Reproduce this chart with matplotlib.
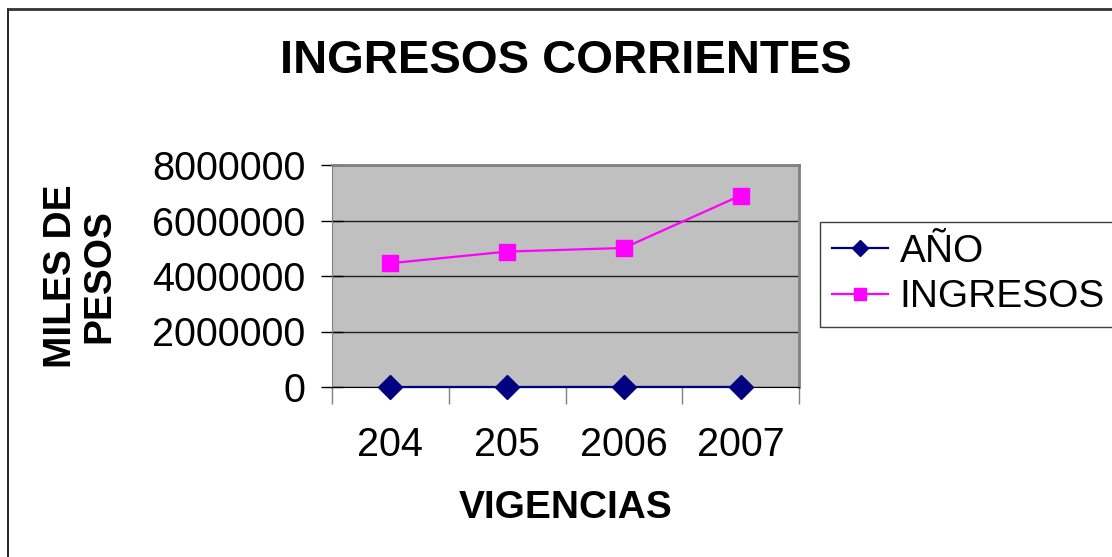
import matplotlib
matplotlib.use('Agg')
import matplotlib.pyplot as plt
from matplotlib.lines import Line2D

# datos
vigencias = ['204', '205', '2006', '2007']
anio = [204, 205, 2006, 2007]
ingresos = [4460000, 4880000, 5010000, 6900000]
y_ticks = [0, 2000000, 4000000, 6000000, 8000000]

plt.rcParams['font.family'] = ['Liberation Sans', 'DejaVu Sans']

fig = plt.figure(figsize=(11.12, 5.57), dpi=100)
ax = fig.add_axes([332/1112, 1-387/557, (799-332)/1112, (387-165)/557])
ax.set_facecolor('#C0C0C0')

x = list(range(1, len(vigencias) + 1))
ax.plot(x, anio, color='#000080', linewidth=1.6, marker='D', markersize=12,
        label='AÑO', zorder=3, clip_on=False)
ax.plot(x, ingresos, color='#FF00FF', linewidth=1.6, marker='s', markersize=12,
        label='INGRESOS', zorder=3)

ax.set_xlim(0.5, len(vigencias) + 0.5)
ax.set_ylim(0, 8000000)
ax.set_yticks(y_ticks)
ax.set_yticklabels([str(v) for v in y_ticks], fontsize=28.5)
ax.tick_params(axis='y', direction='inout', length=16, width=1, pad=11)

# ticks del eje x en los bordes de categoria, etiquetas al centro
ax.set_xticks([i + 0.5 for i in range(len(vigencias) + 1)])
ax.set_xticklabels([])
ax.set_xticks(x, minor=True)
ax.set_xticklabels(vigencias, minor=True, fontsize=28.5)
ax.tick_params(axis='x', which='major', direction='out', length=12, width=1, color='#808080')
ax.tick_params(axis='x', which='minor', length=0, pad=28)

ax.grid(True, axis='y', color='#202020', linewidth=1)
ax.set_axisbelow(True)
for s in ['top', 'right']:
    ax.spines[s].set_color('#808080')
    ax.spines[s].set_linewidth(2)
ax.spines['left'].set_color('#808080')
ax.spines['bottom'].set_color('#000000')

fig.text(566/1112, 1-61/557, 'INGRESOS CORRIENTES', fontsize=34, fontweight='bold',
         ha='center', va='center')
fig.text(566/1112, 1-508/557, 'VIGENCIAS', fontsize=28, fontweight='bold',
         ha='center', va='center')
fig.text(80/1112, 1-276/557, 'MILES DE\nPESOS', fontsize=28, fontweight='bold',
         ha='center', va='center', rotation=90, linespacing=1.1)

handles = [
    Line2D([], [], color='#000080', linewidth=1.6, marker='D', markersize=8),
    Line2D([], [], color='#FF00FF', linewidth=1.6, marker='s', markersize=9),
]
leg = fig.legend(handles, ['AÑO', 'INGRESOS'], loc='upper left',
                 bbox_to_anchor=(820/1112, 1-222/557), fontsize=28,
                 frameon=True, fancybox=False, framealpha=1, edgecolor='#404040',
                 handlelength=1.45, handletextpad=0.3, labelspacing=0.25,
                 borderpad=0.3, borderaxespad=0)
leg.get_frame().set_linewidth(1)

# borde de la figura (izquierda y arriba)
fig.add_artist(Line2D([8/1112, 8/1112], [0, 1-9/557], transform=fig.transFigure,
                      color='black', linewidth=1.2))
fig.add_artist(Line2D([8/1112, 1], [1-9/557, 1-9/557], transform=fig.transFigure,
                      color='#333333', linewidth=2))

plt.savefig('out.png', dpi=100)
